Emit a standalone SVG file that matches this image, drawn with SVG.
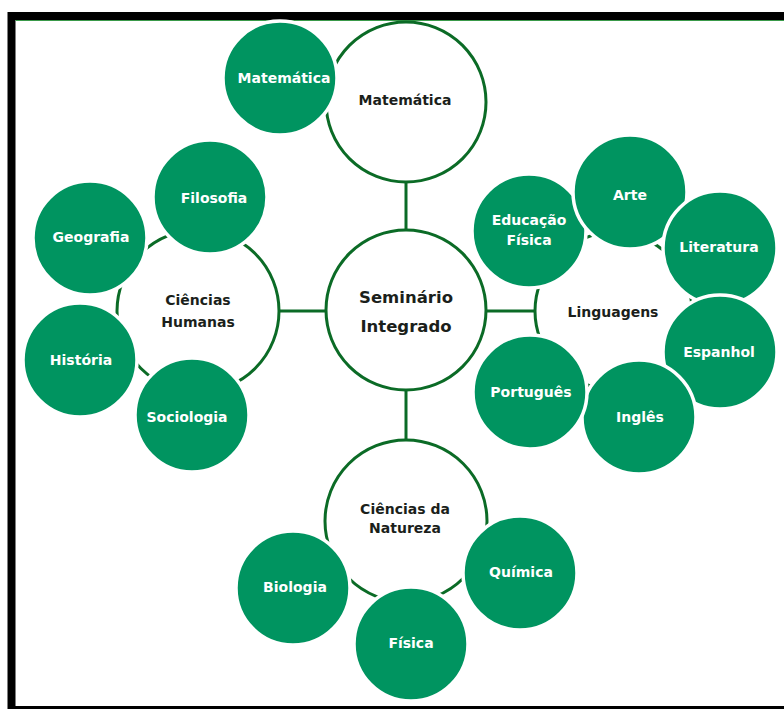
<svg xmlns="http://www.w3.org/2000/svg" width="784" height="709" viewBox="0 0 784 709">
  <style>
    .hub { fill: #ffffff; stroke: #0b6b26; stroke-width: 3; }
    .leaf { fill: #009460; stroke: #ffffff; stroke-width: 3.5; }
    .link { stroke: #0b6b26; stroke-width: 3; fill: none; }
    .hubText { font-family: "DejaVu Sans", "Liberation Sans", sans-serif; font-weight: bold; font-size: 14px; fill: #1b1f1b; text-anchor: middle; }
    .bigText { font-size: 16.5px; }
    .leafText { font-family: "DejaVu Sans", "Liberation Sans", sans-serif; font-weight: bold; font-size: 14px; fill: #ffffff; text-anchor: middle; }
  </style>

  <rect x="0" y="0" width="784" height="709" fill="#ffffff"/>

  <!-- frame -->
  <rect x="11.5" y="16" width="800" height="694" fill="none" stroke="#000000" stroke-width="8"/>
  <line x1="15.5" y1="20.5" x2="784" y2="20.5" stroke="#3a9a4a" stroke-width="1"/>

  <!-- connectors between the hub circles -->
  <g id="connectors">
    <line class="link" x1="406" y1="182" x2="406" y2="231"/>
    <line class="link" x1="279" y1="311" x2="326" y2="311"/>
    <line class="link" x1="485" y1="311" x2="535" y2="311"/>
    <line class="link" x1="406" y1="389" x2="406" y2="441"/>
  </g>

  <!-- hub circles -->
  <g id="seminario">
    <circle class="hub" cx="406" cy="310" r="80"/>
    <text class="hubText bigText" x="406" y="303">Seminário</text>
    <text class="hubText bigText" x="406" y="332">Integrado</text>
  </g>
  <g id="matematica">
    <circle class="hub" cx="406" cy="102" r="80"/>
    <text class="hubText" x="405" y="105">Matemática</text>
  </g>
  <g id="humanas">
    <circle class="hub" cx="198" cy="311" r="81"/>
    <text class="hubText" x="198" y="305">Ciências</text>
    <text class="hubText" x="198" y="327">Humanas</text>
  </g>
  <g id="linguagens">
    <circle class="hub" cx="613.5" cy="311" r="78.5"/>
    <text class="hubText" x="613" y="317">Linguagens</text>
  </g>
  <g id="natureza">
    <circle class="hub" cx="406" cy="521" r="81"/>
    <text class="hubText" x="405" y="514">Ciências da</text>
    <text class="hubText" x="405" y="533">Natureza</text>
  </g>

  <!-- subject circles -->
  <g id="mat-leaf">
    <circle class="leaf" cx="280" cy="78" r="57"/>
    <text class="leafText" x="284" y="83">Matemática</text>
  </g>

  <g id="filosofia">
    <circle class="leaf" cx="210" cy="197" r="57"/>
    <text class="leafText" x="214" y="203">Filosofia</text>
  </g>
  <g id="geografia">
    <circle class="leaf" cx="90" cy="238" r="57"/>
    <text class="leafText" x="91" y="242">Geografia</text>
  </g>
  <g id="historia">
    <circle class="leaf" cx="80" cy="360" r="57"/>
    <text class="leafText" x="81" y="365">História</text>
  </g>
  <g id="sociologia">
    <circle class="leaf" cx="192" cy="415" r="57"/>
    <text class="leafText" x="187" y="422">Sociologia</text>
  </g>

  <g id="edfisica">
    <circle class="leaf" cx="529" cy="231" r="57"/>
    <text class="leafText" x="529" y="225">Educação</text>
    <text class="leafText" x="529" y="245">Física</text>
  </g>
  <g id="arte">
    <circle class="leaf" cx="630" cy="192" r="57"/>
    <text class="leafText" x="630" y="200">Arte</text>
  </g>
  <g id="literatura">
    <circle class="leaf" cx="720" cy="248" r="57"/>
    <text class="leafText" x="719" y="252">Literatura</text>
  </g>
  <g id="espanhol">
    <circle class="leaf" cx="720" cy="352" r="57"/>
    <text class="leafText" x="719" y="357">Espanhol</text>
  </g>
  <g id="ingles">
    <circle class="leaf" cx="639" cy="417" r="57"/>
    <text class="leafText" x="640" y="422">Inglês</text>
  </g>
  <g id="portugues">
    <circle class="leaf" cx="530" cy="392" r="57"/>
    <text class="leafText" x="531" y="397">Português</text>
  </g>

  <g id="biologia">
    <circle class="leaf" cx="293" cy="588" r="57"/>
    <text class="leafText" x="295" y="592">Biologia</text>
  </g>
  <g id="fisica">
    <circle class="leaf" cx="411" cy="644" r="57"/>
    <text class="leafText" x="411" y="648">Física</text>
  </g>
  <g id="quimica">
    <circle class="leaf" cx="520" cy="573" r="57"/>
    <text class="leafText" x="521" y="577">Química</text>
  </g>
</svg>
